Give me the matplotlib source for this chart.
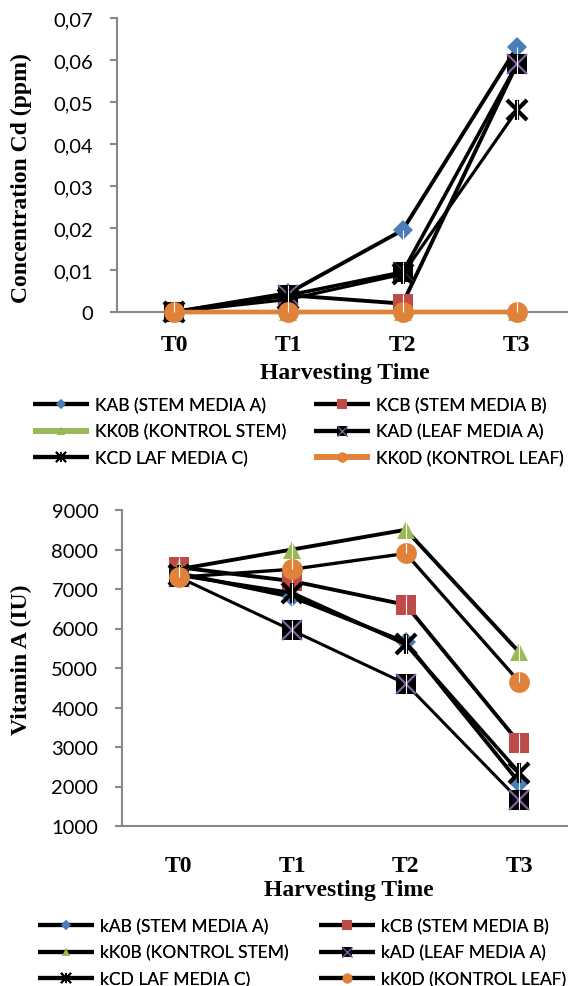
import matplotlib
matplotlib.use('Agg')
import matplotlib.pyplot as plt
from matplotlib.lines import Line2D
from matplotlib.path import Path
from matplotlib.ticker import FuncFormatter, MultipleLocator

times = ['T0', 'T1', 'T2', 'T3']

# Cd concentration (ppm)
cd_kab = [0, 0.0045, 0.0195, 0.063]
cd_kcb = [0, 0.004, 0.002, 0.059]
cd_kk0b = [0, 0, 0, 0]
cd_kad = [0, 0.004, 0.0095, 0.059]
cd_kcd = [0, 0.003, 0.009, 0.048]
cd_kk0d = [0, 0, 0, 0]
cd_labels = ['KAB (STEM MEDIA A)', 'KCB (STEM MEDIA B)', 'KK0B (KONTROL STEM)',
             'KAD (LEAF MEDIA A)', 'KCD LAF MEDIA C)', 'KK0D (KONTROL LEAF)']

# Vitamin A (IU)
va_kab = [7400, 6800, 5650, 2100]
va_kcb = [7550, 7200, 6600, 3100]
va_kk0b = [7500, 8000, 8500, 5400]
va_kad = [7300, 5950, 4600, 1650]
va_kcd = [7350, 6900, 5600, 2350]
va_kk0d = [7300, 7500, 7900, 4650]
va_labels = ['kAB (STEM MEDIA A)', 'kCB (STEM MEDIA B)', 'kK0B (KONTROL STEM)',
             'kAD (LEAF MEDIA A)', 'kCD LAF MEDIA C)', 'kK0D (KONTROL LEAF)']

BLUE = '#4A7EBB'
RED = '#BE4B48'
GREEN = '#98B954'
PURPLE = '#7E62A1'
ORANGE = '#E0823A'
GRAY = '#888888'
SANS = ['Lato', 'DejaVu Sans']
SERIF = ['Liberation Serif', 'DejaVu Serif']

BAR_UP = Path([(0, 0), (0, 1)])
BAR_DOWN = Path([(0, 0), (0, -1)])

KINDS = ['diamond', 'square', 'triangle', 'xsquare', 'star', 'circle']


def layers(kind, big):
    s = 1.0 if big else 0.48
    if kind == 'diamond':
        return [dict(marker='D', ms=10.5 * s, mfc=BLUE, mec=BLUE, mew=0)]
    if kind == 'square':
        return [dict(marker='s', ms=15 * s, mfc=RED, mec=RED, mew=0)]
    if kind == 'triangle':
        return [dict(marker='^', ms=13 * s, mfc=GREEN, mec=GREEN, mew=0)]
    if kind == 'xsquare':
        return [dict(marker='s', ms=14 * s, mfc='black', mec='black', mew=0),
                dict(marker='x', ms=14 * s, mec=PURPLE, mew=1.3 * s + 0.3)]
    if kind == 'star':
        return [dict(marker='x', ms=14 * s, mec='black', mew=3 * s),
                dict(marker='|', ms=15 * s, mec='black', mew=3 * s)]
    return [dict(marker='o', ms=15 * s, mfc=ORANGE, mec=ORANGE, mew=0)]


def white_bar(kind):
    if kind == 'circle':
        return dict(marker=BAR_UP, ms=15)
    if kind == 'diamond':
        return dict(marker=BAR_DOWN, ms=15)
    return dict(marker='|', ms=14)


def draw(ax, series, colors, widths, labels, legend_xy, legend_lw):
    x = range(len(times))
    handles = []
    for i, (y, kind, c, lw) in enumerate(zip(series, KINDS, colors, widths)):
        z = 3 + i
        ax.plot(x, y, color=c, lw=lw, solid_capstyle='round', zorder=z, clip_on=False)
        for lay in layers(kind, True):
            ax.plot(x, y, ls='none', zorder=z + 0.1, clip_on=False, **lay)
        ax.plot(x, y, ls='none', mec='white', mew=0.8, zorder=z + 0.2, clip_on=False,
                **white_bar(kind))
        h = [Line2D([], [], color=c, lw=legend_lw[i], solid_capstyle='butt')]
        h += [Line2D([], [], ls='none', **lay) for lay in layers(kind, False)]
        handles.append(tuple(h))

    # two legend columns, three rows each
    for col in range(2):
        idx = [col, col + 2, col + 4]
        lx, ly = legend_xy[col]
        leg = fig.legend([handles[k] for k in idx], [labels[k] for k in idx],
                         loc='upper left', bbox_to_anchor=(lx / W, 1 - ly / H),
                         frameon=False, numpoints=1, borderpad=0, borderaxespad=0,
                         handlelength=3.2, handletextpad=0.35, labelspacing=0.6,
                         prop=dict(family=SANS, size=12.5))
        fig.add_artist(leg)


def style(ax):
    ax.set_xlim(-0.5, 3.5)
    for s in ('top', 'right'):
        ax.spines[s].set_visible(False)
    for s in ('left', 'bottom'):
        ax.spines[s].set_color(GRAY)
        ax.spines[s].set_linewidth(1.5)
    ax.tick_params(axis='y', direction='out', length=5, width=1.5, color=GRAY,
                   pad=12, labelsize=14.5)
    for t in ax.get_yticklabels():
        t.set_fontfamily(SANS)
    ax.set_xticks(range(len(times)))
    ax.set_xticklabels(times, fontfamily=SERIF, fontweight='bold', fontsize=17)
    ax.tick_params(axis='x', length=0)


W, H = 568, 987
fig = plt.figure(figsize=(W / 100, H / 100), dpi=100)


def px_axes(left, top, right, bottom):
    return fig.add_axes([left / W, 1 - bottom / H, (right - left) / W, (bottom - top) / H])


# Cd concentration
ax1 = px_axes(117, 19, 574, 313)
ax1.set_ylim(0, 0.07)
ax1.yaxis.set_major_locator(MultipleLocator(0.01))
ax1.yaxis.set_major_formatter(FuncFormatter(
    lambda v, p: '0' if abs(v) < 1e-9 else f'{v:.2f}'.replace('.', ',')))
style(ax1)
ax1.tick_params(axis='x', pad=16)
draw(ax1, [cd_kab, cd_kcb, cd_kk0b, cd_kad, cd_kcd, cd_kk0d],
     ['black', 'black', GREEN, 'black', 'black', ORANGE],
     [2.8, 2.8, 3.2, 2.6, 2.3, 3.2], cd_labels,
     [(33, 398), (314, 398)], [3, 3, 4, 3, 3, 4])
fig.text(345, H - 374, 'Harvesting Time', transform=None, ha='center', va='center',
         family=SERIF, weight='bold', size=17)
fig.text(21, H - 178, 'Concentration Cd (ppm)', transform=None, rotation=90,
         ha='center', va='center', family=SERIF, weight='bold', size=17)

# Vitamin A
ax2 = px_axes(122, 511, 576, 827)
ax2.set_ylim(1000, 9000)
ax2.yaxis.set_major_locator(MultipleLocator(1000))
style(ax2)
ax2.tick_params(axis='x', pad=21)
draw(ax2, [va_kab, va_kcb, va_kk0b, va_kad, va_kcd, va_kk0d],
     ['black'] * 6, [2.8, 2.8, 2.8, 2.2, 2.6, 2.4], va_labels,
     [(38, 919), (319, 919)], [3] * 6)
fig.text(349, H - 891, 'Harvesting Time', transform=None, ha='center', va='center',
         family=SERIF, weight='bold', size=17)
fig.text(21, H - 660, 'Vitamin A (IU)', transform=None, rotation=90,
         ha='center', va='center', family=SERIF, weight='bold', size=17)

fig.savefig('out.png', dpi=100)
